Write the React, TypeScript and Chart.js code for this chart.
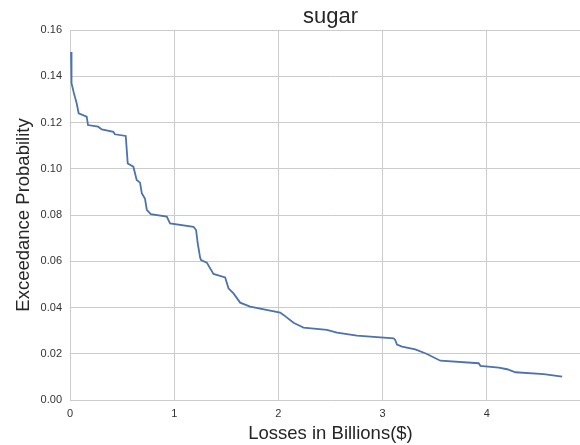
import React, { useEffect, useRef } from "react";
import { Chart, registerables } from "chart.js";

Chart.register(...registerables);

const chartTitle = "sugar";
const xAxisLabel = "Losses in Billions($)";
const yAxisLabel = "Exceedance Probability";

const lossBillions = [
  0.01, 0.012, 0.017, 0.038, 0.064, 0.083, 0.16, 0.173, 0.27, 0.305, 0.416, 0.43,
  0.535, 0.554, 0.608, 0.64, 0.672, 0.689, 0.72, 0.737, 0.775, 0.929, 0.96, 1.185,
  1.21, 1.225, 1.249, 1.258, 1.313, 1.377, 1.489, 1.521, 1.569, 1.633, 1.729, 2.017,
  2.049, 2.145, 2.209, 2.241, 2.466, 2.562, 2.754, 3.106, 3.122, 3.138, 3.186, 3.314,
  3.426, 3.554, 3.922, 3.939, 4.115, 4.195, 4.275, 4.547, 4.723,
];
const exceedanceProb = [
  0.1505, 0.14, 0.137, 0.1326, 0.1283, 0.124, 0.1225, 0.1189, 0.1182, 0.117, 0.116, 0.1149,
  0.1142, 0.1023, 0.1009, 0.0951, 0.094, 0.0894, 0.087, 0.0822, 0.0804, 0.0793, 0.0764, 0.0749,
  0.0735, 0.068, 0.0615, 0.0605, 0.0594, 0.0545, 0.053, 0.0483, 0.0461, 0.0421, 0.0404, 0.0378,
  0.0368, 0.0334, 0.032, 0.0313, 0.0303, 0.0291, 0.0278, 0.0267, 0.0259, 0.024, 0.0231, 0.0219,
  0.0199, 0.017, 0.0159, 0.0148, 0.014, 0.0133, 0.012, 0.0112, 0.0101,
];

const FONT = "'Liberation Sans', Arial, Helvetica, sans-serif";

export default function App() {
  const ref = useRef<HTMLCanvasElement | null>(null);
  useEffect(() => {
    if (!ref.current) return;
    const points = lossBillions.map((x, i) => ({ x, y: exceedanceProb[i] }));
    const chart = new Chart(ref.current, {
      type: "line",
      data: {
        datasets: [
          {
            data: points,
            xAxisID: "x",
            yAxisID: "y",
            borderColor: "#4C72B0",
            borderWidth: 1.8,
            pointRadius: 0,
            fill: false,
            tension: 0,
          },
        ],
      },
      options: {
        animation: false,
        responsive: false,
        maintainAspectRatio: false,
        layout: { padding: 0 },
        plugins: {
          legend: { display: false },
          tooltip: { enabled: false },
          title: { display: false },
        },
        scales: {
          top: {
            type: "linear",
            position: "top",
            min: 0,
            max: 5,
            border: { display: false },
            grid: { display: false, drawTicks: false },
            ticks: { display: false },
            title: {
              display: true,
              text: chartTitle,
              color: "#262626",
              font: { family: FONT, size: 22, weight: "normal" },
              padding: { top: 4, bottom: 0 },
            },
            afterFit: (s: any) => {
              s.height = 30;
              s.paddingLeft = 0;
              s.paddingRight = 0;
            },
          },
          x: {
            type: "linear",
            position: "bottom",
            min: 0,
            max: 5,
            border: { display: false },
            grid: { color: "#cccccc", lineWidth: 1, drawTicks: false },
            ticks: {
              stepSize: 1,
              padding: 7,
              color: "#333333",
              font: { family: FONT, size: 11 },
              maxRotation: 0,
            },
            title: {
              display: true,
              text: xAxisLabel,
              color: "#262626",
              font: { family: FONT, size: 18.5 },
              padding: { top: 0, bottom: 0 },
            },
            afterFit: (s: any) => {
              s.height = 45;
              s.paddingLeft = 0;
              s.paddingRight = 0;
            },
          },
          y: {
            type: "linear",
            min: 0,
            max: 0.16,
            border: { display: false },
            grid: { color: "#cccccc", lineWidth: 1, drawTicks: false },
            ticks: {
              stepSize: 0.02,
              padding: 8,
              color: "#333333",
              font: { family: FONT, size: 11 },
              callback: (v: any) => Number(v).toFixed(2),
            },
            title: {
              display: true,
              text: yAxisLabel,
              color: "#262626",
              font: { family: FONT, size: 18.5 },
              padding: { top: 13, bottom: 0 },
            },
            afterFit: (s: any) => {
              s.width = 70;
              s.paddingTop = 0;
              s.paddingBottom = 0;
            },
          },
        },
      },
    });
    return () => chart.destroy();
  }, []);

  return (
    <div
      style={{
        position: "fixed",
        left: 0,
        top: 0,
        width: 580,
        height: 445,
        overflow: "hidden",
        background: "#ffffff",
      }}
    >
      <canvas ref={ref} width={591} height={445} style={{ width: 591, height: 445, display: "block" }} />
    </div>
  );
}
